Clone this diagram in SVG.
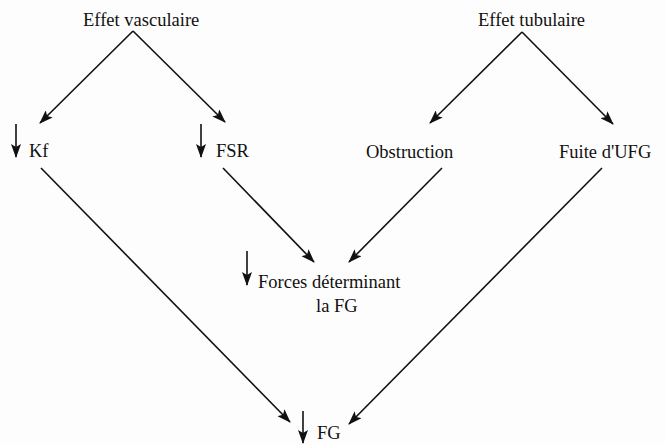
<svg xmlns="http://www.w3.org/2000/svg" width="665" height="445" viewBox="0 0 665 445">
<style>
.t{font-family:"Liberation Serif","Times New Roman",serif;font-size:18.5px;fill:#111}
.c{stroke:#111;stroke-width:1.6;fill:none}
</style>
<defs>
<marker id="ah" markerUnits="userSpaceOnUse" markerWidth="14" markerHeight="10" refX="13" refY="5" orient="auto">
<path d="M0,0 L14,5 L0,10 L3,5 Z" fill="#111"/>
</marker>
</defs>
<rect width="665" height="445" fill="#fdfdfd"/>
<g id="connectors">
<line class="c" x1="133" y1="31" x2="40" y2="123" marker-end="url(#ah)"/>
<line class="c" x1="133" y1="31" x2="225" y2="122" marker-end="url(#ah)"/>
<line class="c" x1="522" y1="32" x2="430" y2="123" marker-end="url(#ah)"/>
<line class="c" x1="522" y1="32" x2="613" y2="124" marker-end="url(#ah)"/>
<line class="c" x1="41" y1="168" x2="290" y2="422" marker-end="url(#ah)"/>
<line class="c" x1="223" y1="168" x2="314" y2="262" marker-end="url(#ah)"/>
<line class="c" x1="442" y1="168" x2="349" y2="262" marker-end="url(#ah)"/>
<line class="c" x1="602" y1="168" x2="349" y2="424" marker-end="url(#ah)"/>
</g>
<g id="effet-vasculaire"><text class="t" x="83" y="26">Effet vasculaire</text></g>
<g id="effet-tubulaire"><text class="t" x="478" y="26">Effet tubulaire</text></g>
<g id="kf">
<line class="c" x1="16" y1="124" x2="16" y2="157" marker-end="url(#ah)"/>
<text class="t" x="29" y="157">Kf</text>
</g>
<g id="fsr">
<line class="c" x1="201" y1="124" x2="201" y2="157" marker-end="url(#ah)"/>
<text class="t" x="216" y="157">FSR</text>
</g>
<g id="obstruction"><text class="t" x="366" y="158">Obstruction</text></g>
<g id="fuite"><text class="t" x="559" y="158">Fuite d'UFG</text></g>
<g id="forces">
<line class="c" x1="247" y1="251" x2="247" y2="285" marker-end="url(#ah)"/>
<text class="t" x="258" y="288">Forces déterminant</text>
<text class="t" x="316" y="312">la FG</text>
</g>
<g id="fg">
<line class="c" x1="303" y1="411" x2="303" y2="443" marker-end="url(#ah)"/>
<text class="t" x="317" y="439">FG</text>
</g>
</svg>
